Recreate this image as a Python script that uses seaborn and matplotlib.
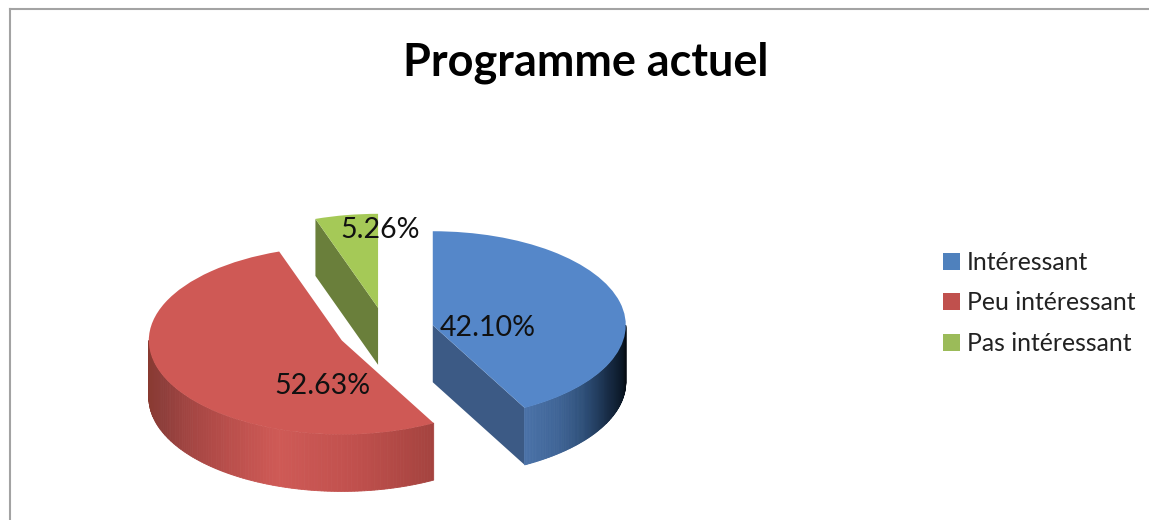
import numpy as np
import matplotlib
matplotlib.use('Agg')
import matplotlib.pyplot as plt
import seaborn as sns

categories = ['Intéressant', 'Peu intéressant', 'Pas intéressant']
values = [42.10, 52.63, 5.26]
top_colors = ['#5587c9', '#cf5955', '#a5c957']
legend_colors = ['#4f81bd', '#c0504d', '#9bbb59']
title = 'Programme actuel'

sns.set_theme(style='white')
plt.rcParams['font.family'] = ['Lato', 'DejaVu Sans']

W, H = 1149, 520
LEFT, TOP = 10, 9
squash = 94 / 193.0
radius = 193
depth = 57 / squash


def py(y):
    # picture row to data y, the ellipse comes from the stretched y axis
    return (H - y) / squash


fig = plt.figure(figsize=(W / 100, H / 100), dpi=100, facecolor='white')
ax = fig.add_axes([LEFT / W, 0, 1 - LEFT / W, 1 - TOP / H])

# pie takes explode in data units, not radius fractions
wedges, _ = ax.pie(values, explode=[0.25 * radius] * 3, startangle=90, counterclock=False,
                   radius=radius, center=(386, py(331)), colors=top_colors,
                   wedgeprops={'linewidth': 0})
for w in wedges:
    w.set_zorder(5)

ax.set_aspect('auto')
ax.set_xlim(LEFT, W)
ax.set_ylim(0, py(TOP))


def cut_face(w, theta, color):
    cx, cy = w.center
    ex = cx + w.r * np.cos(np.radians(theta))
    ey = cy + w.r * np.sin(np.radians(theta))
    ax.fill([cx, ex, ex, cx], [cy, ey, ey - depth, cy - depth], color=color, lw=0, zorder=2)


def arc_side(w, t1, t2, stops, n=120):
    shades = sns.blend_palette(stops, n)
    th = np.radians(np.linspace(t1, t2, n + 1))
    cx, cy = w.center
    xs = cx + w.r * np.cos(th)
    ys = cy + w.r * np.sin(th)
    for i in range(n):
        ax.fill([xs[i], xs[i + 1], xs[i + 1], xs[i]],
                [ys[i], ys[i + 1], ys[i + 1] - depth, ys[i] - depth],
                color=shades[i], ec=shades[i], lw=0.6, zorder=3)


# green slice only shows its left cut
cut_face(wedges[2], wedges[2].theta2, '#6a7f3b')
# red outer wall, clockwise angles are negative here
arc_side(wedges[1], -180, wedges[1].theta2,
         ['#87392f', '#8f3e3b', '#b04a47', '#cf5a56', '#c0504d', '#a5433f'])
# blue cut + outer wall
cut_face(wedges[0], wedges[0].theta1, '#3c5a85')
arc_side(wedges[0], wedges[0].theta1, 0,
         ['#4a72a8', '#3f6496', '#2c4c74', '#182c46', '#0c1a2a', '#050b12'])

label_pos = [(488, 328), (322, 386), (380, 230)]
for v, (lx, ly) in zip(values, label_pos):
    ax.text(lx, py(ly), f'{v:.2f}%', ha='center', va='center', fontsize=20.5,
            color='#111111', zorder=8)

ax.set_frame_on(True)
for side in ['right', 'bottom']:
    ax.spines[side].set_visible(False)
for side in ['left', 'top']:
    ax.spines[side].set_visible(True)
    ax.spines[side].set_color('#a3a3a3')
    ax.spines[side].set_linewidth(1.5)

fig.text(586 / W, 1 - 63 / H, title, ha='center', va='center', fontsize=32.4,
         fontweight='bold', color='black')

handles = [plt.Rectangle((0, 0), 1, 1, fc=c, lw=0) for c in legend_colors]
leg = ax.legend(handles, categories, loc='center left',
                bbox_to_anchor=(943 / W, 1 - 303 / H), bbox_transform=fig.transFigure,
                frameon=False, fontsize=17.8, handlelength=0.68, handleheight=0.68,
                labelspacing=0.72, handletextpad=0.3, borderpad=0, borderaxespad=0)
for t in leg.get_texts():
    t.set_color('#222222')

fig.savefig('out.png', dpi=100, facecolor='white')
